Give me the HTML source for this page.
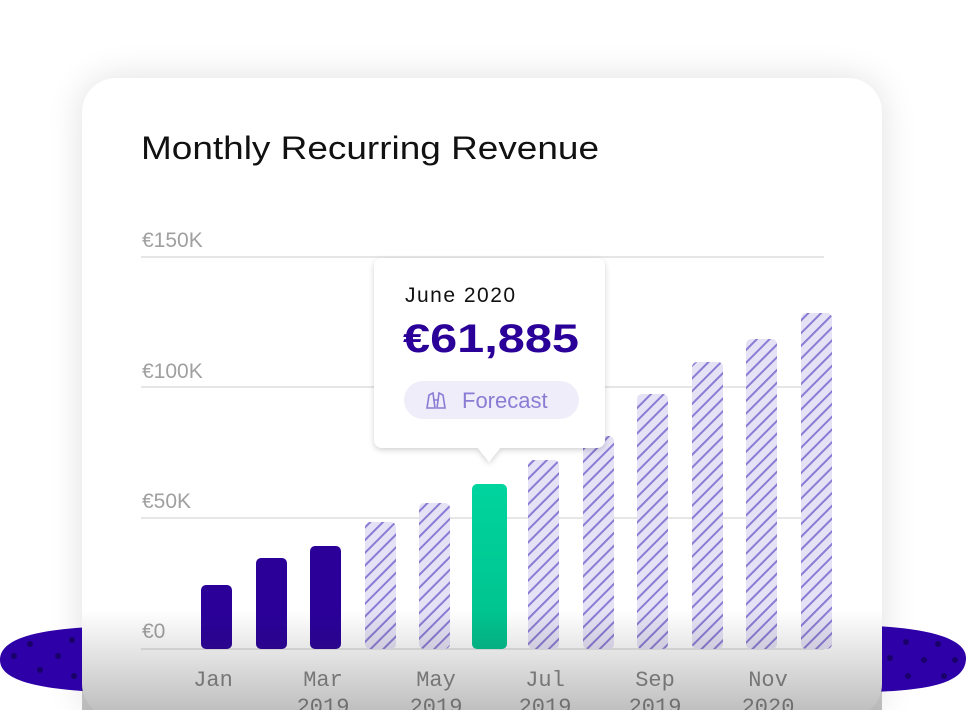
<!DOCTYPE html>
<html><head><meta charset="utf-8"><style>
html,body{margin:0;padding:0;background:#fff;width:966px;height:710px;overflow:hidden}
</style></head><body>
<svg width="966" height="710" viewBox="0 0 966 710" xmlns="http://www.w3.org/2000/svg">
<defs>
<pattern id="h" width="9" height="9" patternUnits="userSpaceOnUse" patternTransform="rotate(45)">
<rect width="9" height="9" fill="#e6e2f6"/>
<rect x="0" width="2" height="9" fill="#8a7cd4"/>
</pattern>
<linearGradient id="g" x1="0" y1="0" x2="0" y2="1">
<stop offset="0" stop-color="#2c2c2c" stop-opacity="0"/>
<stop offset="1" stop-color="#2c2c2c" stop-opacity="0.3"/>
</linearGradient>
<linearGradient id="gr" x1="0" y1="0" x2="0" y2="1">
<stop offset="0" stop-color="#00d49e"/><stop offset="1" stop-color="#00c08c"/>
</linearGradient>
<filter id="sh" x="-20%" y="-20%" width="140%" height="140%"><feGaussianBlur stdDeviation="18"/></filter>
<filter id="ts" x="-20%" y="-20%" width="140%" height="140%"><feDropShadow dx="0" dy="2" stdDeviation="3" flood-opacity="0.18"/></filter>
</defs>
<rect x="82" y="78" width="800" height="640" rx="34" fill="#000" opacity="0.12" filter="url(#sh)"/>
<path d="M0,660 C0,628 80,624 200,626 L780,626 C880,622 966,628 966,658 C966,692 900,694 780,692 L200,694 C80,694 0,690 0,660 Z" fill="#2d00a8"/>
<g fill="#1a006a">
<circle cx="14" cy="656" r="3"/><circle cx="30" cy="644" r="3"/><circle cx="40" cy="670" r="3"/><circle cx="58" cy="656" r="3"/><circle cx="72" cy="640" r="3"/><circle cx="74" cy="676" r="3"/>
<circle cx="890" cy="658" r="3"/><circle cx="906" cy="642" r="3"/><circle cx="908" cy="676" r="3"/><circle cx="924" cy="660" r="3"/><circle cx="938" cy="644" r="3"/><circle cx="944" cy="676" r="3"/><circle cx="955" cy="660" r="3"/>
</g>
<rect x="82" y="78" width="800" height="640" rx="34" fill="#fff"/>
<text x="141" y="159" font-family="Liberation Sans, sans-serif" font-size="32" fill="#111" textLength="458" lengthAdjust="spacingAndGlyphs">Monthly Recurring Revenue</text>
<g stroke="#e6e6e6" stroke-width="2">
<line x1="141" y1="257" x2="824" y2="257"/><line x1="141" y1="387" x2="824" y2="387"/><line x1="141" y1="518" x2="824" y2="518"/><line x1="141" y1="649" x2="824" y2="649"/>
</g>
<g font-family="Liberation Sans, sans-serif" font-size="21" fill="#a0a0a0">
<text x="142" y="247">€150K</text><text x="142" y="378">€100K</text><text x="142" y="508">€50K</text><text x="142" y="638">€0</text>
</g>
<g>
<rect x="201" y="585" width="31" height="64" rx="5" fill="#2a0099"/>
<rect x="256" y="558" width="31" height="91" rx="5" fill="#2a0099"/>
<rect x="310" y="546" width="31" height="103" rx="5" fill="#2a0099"/>
<rect x="365" y="522" width="31" height="127" rx="5" fill="url(#h)"/>
<rect x="419" y="503" width="31" height="146" rx="5" fill="url(#h)"/>
<rect x="472" y="484" width="35" height="165" rx="5" fill="url(#gr)"/>
<rect x="528" y="460" width="31" height="189" rx="5" fill="url(#h)"/>
<rect x="583" y="436" width="31" height="213" rx="5" fill="url(#h)"/>
<rect x="637" y="394" width="31" height="255" rx="5" fill="url(#h)"/>
<rect x="692" y="362" width="31" height="287" rx="5" fill="url(#h)"/>
<rect x="746" y="339" width="31" height="310" rx="5" fill="url(#h)"/>
<rect x="801" y="313" width="31" height="336" rx="5" fill="url(#h)"/>
</g>
<g font-family="Liberation Mono, monospace" font-size="22" fill="#8a8a8a" text-anchor="middle">
<text x="213" y="686">Jan</text><text x="323" y="686">Mar</text><text x="436" y="686">May</text><text x="545" y="686">Jul</text><text x="655" y="686">Sep</text><text x="768" y="686">Nov</text>
<text x="323" y="713">2019</text><text x="436" y="713">2019</text><text x="545" y="713">2019</text><text x="655" y="713">2019</text><text x="768" y="713">2020</text>
</g>
<rect x="82" y="610" width="800" height="100" fill="url(#g)"/>
<g filter="url(#ts)">
<rect x="374" y="258" width="231" height="190" rx="8" fill="#fff"/>
<path d="M477,447 L489,462 L501,447 Z" fill="#fff"/>
</g>
<text x="405" y="302" font-family="Liberation Sans, sans-serif" font-size="21" fill="#111" letter-spacing="1.5">June 2020</text>
<text x="403" y="352" font-family="Liberation Sans, sans-serif" font-weight="bold" font-size="40" fill="#2a0099" textLength="176" lengthAdjust="spacingAndGlyphs">€61,885</text>
<rect x="404" y="381" width="175" height="38" rx="19" fill="#efedfa"/>
<g stroke="#8a7cd4" stroke-width="1.6" fill="none">
<path d="M427,408 L429,395 L433,393 L435,408 Z M437,408 L439,393 L443,395 L445,408 Z M433,400 L439,400"/>
</g>
<text x="462" y="408" font-family="Liberation Sans, sans-serif" font-size="22" fill="#8a7cd4">Forecast</text>
</svg>
</body></html>
